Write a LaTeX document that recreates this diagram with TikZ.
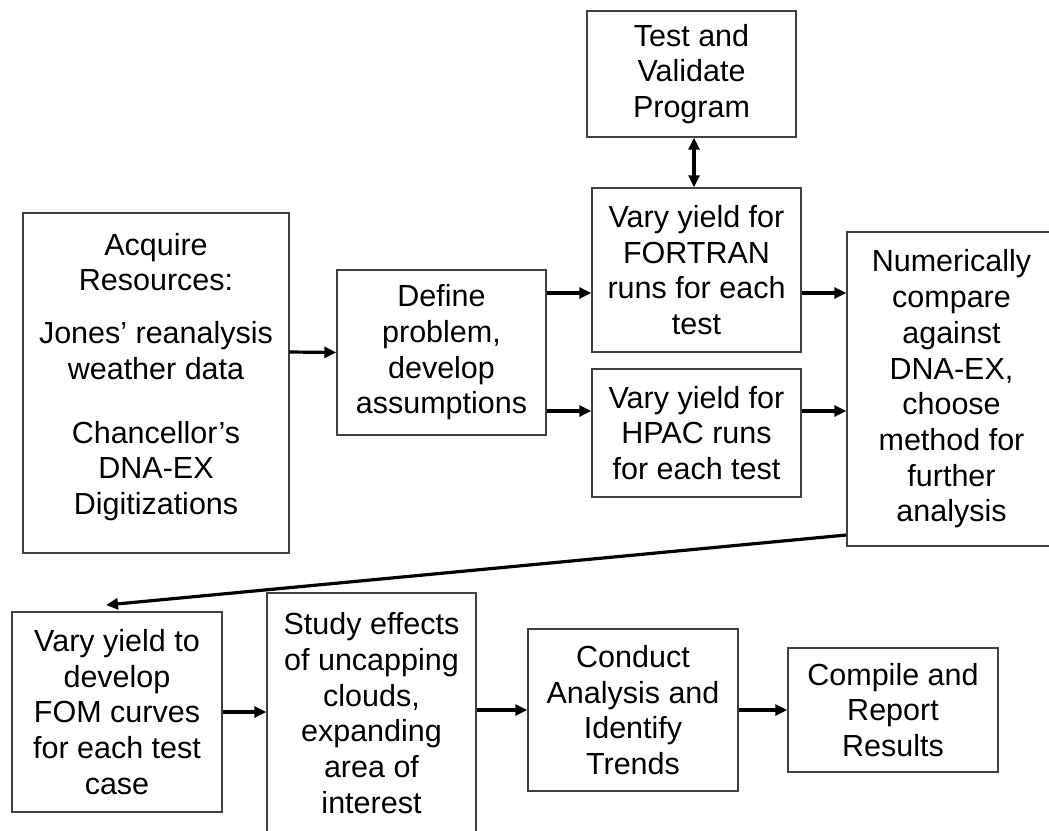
\documentclass[tikz,border=0pt]{standalone}
\usepackage{fontspec}
\setmainfont{Liberation Sans}
\usetikzlibrary{arrows.meta}
\tikzset{
  box/.style={draw=black!75, line width=1.4pt, inner sep=0pt, align=center,
    font=\fontsize{30.5}{35.7}\selectfont},
  txt/.style={inner sep=0pt, align=center, font=\fontsize{30.5}{35.7}\selectfont},
  arr/.style={line width=3.2pt, -{Triangle[length=12pt,width=11pt]}},
  darr/.style={line width=3.2pt, {Triangle[length=12pt,width=11pt]}-{Triangle[length=12pt,width=11pt]}}
}
\begin{document}
\begin{tikzpicture}[x=1pt,y=-1pt]
\useasboundingbox (0,0) rectangle (1049,830);
\clip (0,0) rectangle (1049,830);
\fill[white] (0,0) rectangle (1049,830);
% boxes
\node[box, minimum width=209pt, minimum height=126pt] (test) at (691.5,74) {Test and\\Validate\\Program};
\node[box, minimum width=209pt, minimum height=164pt] (fort) at (696.5,270) {Vary yield for\\FORTRAN\\runs for each\\test};
\node[box, minimum width=209pt, minimum height=128pt] (hpac) at (696.5,433) {Vary yield for\\HPAC runs\\for each test};
\node[box, minimum width=209pt, minimum height=314pt] (num) at (951.5,389) {Numerically\\compare\\against\\DNA-EX,\\choose\\method for\\further\\analysis};
\node[box, minimum width=209pt, minimum height=165pt] (def) at (441.5,352.5) {Define\\problem,\\develop\\assumptions};
\node[box, minimum width=266pt, minimum height=340pt] (acq) at (156,383) {};
\node[txt] (acqtxt) at (156,377) {Acquire\\Resources:\\[17pt]Jones’ reanalysis\\weather data\\[28pt]Chancellor’s\\DNA-EX\\Digitizations};
\node[box, minimum width=210pt, minimum height=200pt] (fom) at (117,712) {Vary yield to\\develop\\FOM curves\\for each test\\case};
\node[box, minimum width=209pt, minimum height=240pt] (study) at (371.5,713) {Study effects\\of uncapping\\clouds,\\expanding\\area of\\interest};
\node[box, minimum width=210pt, minimum height=162pt] (cond) at (633,710) {Conduct\\Analysis and\\Identify\\Trends};
\node[box, minimum width=210pt, minimum height=124pt] (comp) at (893,710) {Compile and\\Report\\Results};
\coordinate (fomtip) at (106,605);
% connectors
\draw[arr] ([yshift=31pt]acq.east) -- (def.west);
\draw[arr] ([yshift=59.5pt]def.east) -- ([yshift=-23pt]fort.west);
\draw[arr] ([yshift=-58.5pt]def.east) -- ([yshift=22pt]hpac.west);
\draw[arr] ([yshift=-23pt]fort.east) -- ([yshift=96pt]num.west);
\draw[arr] ([yshift=22pt]hpac.east) -- ([yshift=-22pt]num.west);
\draw[darr] ([xshift=2.5pt]test.south) -- ([xshift=-2.5pt]fort.north);
\draw[arr] ([yshift=-146pt]num.west) -- (fomtip);
\draw[arr] (fom.east) -- (fom.east -| study.west);
\draw[arr] (study.east |- cond.west) -- (cond.west);
\draw[arr] (cond.east) -- (comp.west);
\end{tikzpicture}
\end{document}
